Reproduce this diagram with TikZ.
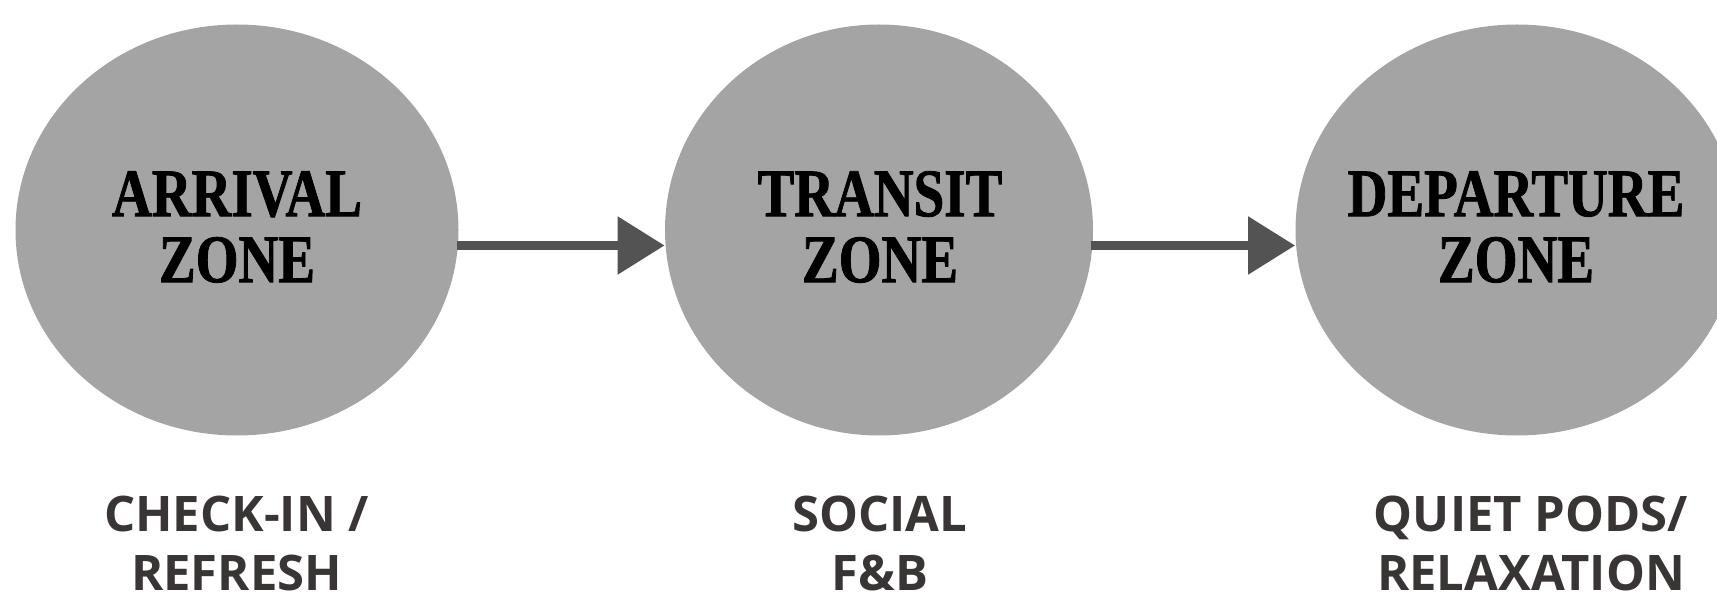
\documentclass[tikz,border=0pt]{standalone}
\usepackage{fontspec}
\usetikzlibrary{shapes.geometric,arrows.meta}
\newfontfamily\zonefont{Liberation Serif}[FakeStretch=0.81,FakeBold=1.2]
\newfontfamily\labfont{Open Sans}
\definecolor{zonegrey}{HTML}{A4A4A4}
\definecolor{arrowgrey}{HTML}{535353}
\definecolor{labcol}{HTML}{3A3535}
\tikzset{
  zone/.style={ellipse, fill=zonegrey, draw=none, inner sep=0pt,
    minimum width=221.5pt, minimum height=205.5pt},
  zonetext/.style={inner sep=0pt, align=center, text=black,
    font=\zonefont\bfseries\fontsize{34}{33}\selectfont},
  labtext/.style={inner sep=0pt, align=center, text=labcol,
    font=\labfont\bfseries\fontsize{24.5}{29.5}\selectfont},
  flow/.style={draw=arrowgrey, line width=4.5pt,
    -{Triangle[length=23.5pt,width=28pt]}, shorten <=-1pt}
}
\begin{document}
\begin{tikzpicture}[x=0.5pt,y=-0.5pt]
\useasboundingbox (0,0) rectangle (1717,598);
\clip (0,0) rectangle (1717,598);
\node[zone] (a) at (237,230) {};
\node[zone, minimum width=214pt] (b) at (879,230) {};
\node[zone] (c) at (1517,230) {};
\node[zonetext] (at) at (237,227) {ARRIVAL\\ZONE};
\node[zonetext] (bt) at (880,227) {TRANSIT\\ZONE};
\node[zonetext] (ct) at (1516,227) {DEPARTURE\\ZONE};
\draw[flow] (a.east |- 0,245.5) -- (b.west |- 0,245.5);
\draw[flow] (b.east |- 0,245.5) -- (c.west |- 0,245.5);
\node[labtext] (al) at (236.5,543) {CHECK-IN /\\REFRESH};
\node[labtext] (bl) at (880,543) {SOCIAL\\F\&B};
\node[labtext] (cl) at (1531,543) {QUIET PODS/\\RELAXATION};
\end{tikzpicture}
\end{document}
